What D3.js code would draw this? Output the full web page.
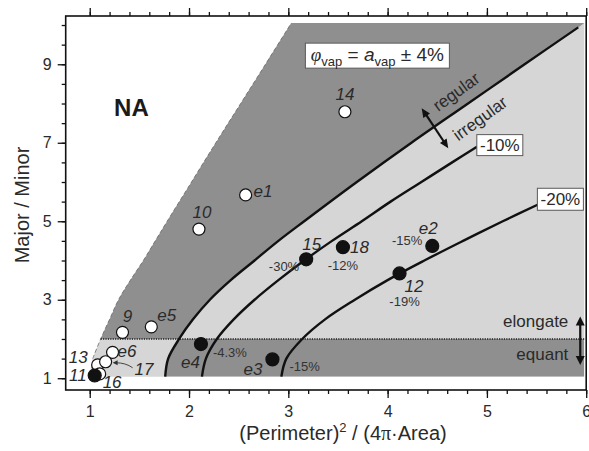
<!DOCTYPE html>
<html>
<head>
<meta charset="utf-8">
<script src="https://cdn.jsdelivr.net/npm/d3@7"></script>
<style>
  body { margin: 0; background: #fff; }
  svg { display: block; font-family: "Liberation Sans", Arial, Helvetica, sans-serif; }
</style>
</head>
<body>
<svg id="chart" width="589" height="451"></svg>
<script>
// ---------------- data ----------------
const xTickLabels = [1, 2, 3, 4, 5, 6];
const yTickLabels = [1, 3, 5, 7, 9];
const xMinorTicks = d3.range(1, 6.001, 0.2);
const yMinorTicks = d3.range(1, 10.001, 0.5);

// Limit of attainable shapes: [shape factor, major/minor]
const naBoundary = [[1.0, 1.04], [1.03, 1.5], [1.11, 2.0], [1.20, 2.5], [1.29, 3.0], [1.41, 3.5],
                    [1.54, 4.0], [1.66, 4.5], [1.78, 5.0], [2.025, 6.0], [2.27, 7.0], [2.52, 8.0],
                    [2.77, 9.0], [3.03, 10.05]];
// regular / irregular divide
const regularCurve = [[1.76, 1.04], [1.79, 1.5], [1.90, 2.0], [2.04, 2.5], [2.21, 3.0], [2.42, 3.5],
                      [2.66, 4.0], [2.90, 4.5], [3.16, 5.0], [3.69, 6.0], [4.24, 7.0], [4.81, 8.0],
                      [5.38, 9.0], [5.92, 9.94]];
// -10 % contour
const minus10Curve = [[2.13, 1.04], [2.17, 1.5], [2.28, 2.0], [2.45, 2.5], [2.66, 3.0], [2.90, 3.5],
                      [3.16, 4.0], [3.44, 4.5], [3.74, 5.0], [4.03, 5.5], [4.34, 6.0], [4.65, 6.5],
                      [4.90, 6.9]];
// -20 % contour
const minus20Curve = [[2.93, 1.04], [2.98, 1.5], [3.14, 2.0], [3.37, 2.5], [3.67, 3.0], [4.00, 3.5],
                      [4.37, 4.0], [4.76, 4.5], [5.16, 5.0], [5.51, 5.42]];
const elongateLimit = 2;

// Samples
const pointIds    = ["14", "e1", "10", "9", "e5", "e6", "13", "17", "16", "11",
                     "15", "18", "e2", "12", "e4", "e3"];
const pointX      = [3.57, 2.57, 2.10, 1.33, 1.62, 1.23, 1.08, 1.16, 1.10, 1.05,
                     3.18, 3.55, 4.45, 4.12, 2.12, 2.84];
const pointY      = [7.79, 5.67, 4.80, 2.17, 2.31, 1.66, 1.34, 1.42, 1.11, 1.07,
                     4.03, 4.34, 4.37, 3.67, 1.87, 1.48];
const pointFilled = [false, false, false, false, false, false, false, false, false, true,
                     true, true, true, true, true, true];
const pointDeviation = ["", "", "", "", "", "", "", "", "", "",
                        "-30%", "-12%", "-15%", "-19%", "-4.3%", "-15%"];

// ---------------- layout ----------------
const svg = d3.select("#chart");
const x = d3.scaleLinear().domain([0.758, 6.0]).range([65.7, 586.2]);
const y = d3.scaleLinear().domain([0.70, 10.23]).range([390, 16]);
const shadeRight = 5.98, shadeTop = 10.05, shadeBottom = 1.04;

const DARK = "#8f8f8f", LIGHT = "#d6d6d6", INK = "#111", TEXT = "#2a2a2a";

// label placement (pixel offsets from each marker)
const labelPos = {
  "14": [0, -12, "middle"], "e1": [8, 2, "start"], "10": [3, -11, "middle"],
  "9": [5, -10, "middle"], "e5": [6, -6, "start"], "e6": [5, 5, "start"],
  "13": [-10, -2, "end"], "17": [29, 13, "start"], "16": [3, 14, "start"],
  "11": [-8, 6, "end"], "15": [-4, -9, "start"], "18": [7, 6, "start"],
  "e2": [-4, -12, "middle"], "12": [5, 19, "start"], "e4": [-1, 24, "end"],
  "e3": [-10, 16, "end"]
};
const devPos = {
  "15": [-7, 12, "end"], "18": [0, 23, "middle"], "e2": [-10, -1, "end"],
  "12": [5, 33, "middle"], "e4": [12, 13, "start"], "e3": [17, 12, "start"]
};

const curveLine = d3.line().x(d => x(d[0])).y(d => y(d[1])).curve(d3.curveCatmullRom.alpha(0.5));

const defs = svg.append("defs");
// attainable domain
const domainPath = curveLine(naBoundary)
  + `L${x(shadeRight)},${y(shadeTop)}L${x(shadeRight)},${y(shadeBottom)}Z`;
defs.append("clipPath").attr("id", "domainClip").append("path").attr("d", domainPath);
defs.append("clipPath").attr("id", "upperClip").append("rect")
  .attr("x", 0).attr("width", 589).attr("y", y(shadeTop)).attr("height", y(elongateLimit) - y(shadeTop));
defs.append("clipPath").attr("id", "lowerClip").append("rect")
  .attr("x", 0).attr("width", 589).attr("y", y(elongateLimit)).attr("height", y(shadeBottom) - y(elongateLimit));

// light background of the attainable domain
svg.append("path").attr("d", domainPath).attr("fill", LIGHT);

const regPath = curveLine(regularCurve);
// regular & elongate: left of the divide, above the elongate limit
svg.append("g").attr("clip-path", "url(#domainClip)")
  .append("g").attr("clip-path", "url(#upperClip)")
  .append("path")
  .attr("d", regPath + `L${x(shadeRight)},${y(shadeTop)}L${x(0.758)},${y(shadeTop)}L${x(0.758)},${y(shadeBottom)}Z`)
  .attr("fill", DARK);
// irregular & equant: right of the divide, below the elongate limit
svg.append("g").attr("clip-path", "url(#domainClip)")
  .append("g").attr("clip-path", "url(#lowerClip)")
  .append("path")
  .attr("d", regPath + `L${x(shadeRight)},${y(shadeTop)}L${x(shadeRight)},${y(shadeBottom)}Z`)
  .attr("fill", DARK);

// dashed outline of the limit
svg.append("path").attr("d", curveLine(naBoundary.filter(d => d[1] >= 1.5)))
  .attr("fill", "none").attr("stroke", "#6a6a6a").attr("stroke-width", 0.8)
  .attr("stroke-dasharray", "4,2.5");

// elongate / equant limit
svg.append("line")
  .attr("x1", x(1.11)).attr("x2", x(shadeRight))
  .attr("y1", y(elongateLimit)).attr("y2", y(elongateLimit))
  .attr("stroke", "#1a1a1a").attr("stroke-width", 1.6).attr("stroke-dasharray", "1.2,1.2");

// contours
[regularCurve, minus10Curve, minus20Curve].forEach(c => {
  svg.append("path").attr("d", curveLine(c))
    .attr("fill", "none").attr("stroke", INK).attr("stroke-width", 2.4);
});

// ---------------- axes ----------------
function styleAxis(g) {
  g.select(".domain").remove();
  g.selectAll(".tick line").attr("stroke", INK).attr("stroke-width", 1.3);
  g.selectAll(".tick text").attr("fill", TEXT).attr("font-size", 16)
    .attr("font-family", "'Liberation Sans', Arial, sans-serif");
}
const fmt = d3.format("d");
svg.append("g").attr("transform", `translate(0,390)`)
  .call(d3.axisBottom(x).tickValues(xMinorTicks).tickSize(4).tickFormat("")).call(styleAxis);
svg.append("g").attr("transform", `translate(0,390)`)
  .call(d3.axisBottom(x).tickValues(xTickLabels).tickSize(8).tickPadding(8).tickFormat(fmt)).call(styleAxis);
svg.append("g").attr("transform", `translate(0,16)`)
  .call(d3.axisTop(x).tickValues(xMinorTicks).tickSize(4).tickFormat("")).call(styleAxis);
svg.append("g").attr("transform", `translate(0,16)`)
  .call(d3.axisTop(x).tickValues(xTickLabels).tickSize(8).tickFormat("")).call(styleAxis);
svg.append("g").attr("transform", `translate(65.7,0)`)
  .call(d3.axisLeft(y).tickValues(yMinorTicks).tickSize(4).tickFormat("")).call(styleAxis);
svg.append("g").attr("transform", `translate(65.7,0)`)
  .call(d3.axisLeft(y).tickValues(yTickLabels).tickSize(8).tickPadding(6).tickFormat(fmt)).call(styleAxis);

// frame
svg.append("rect").attr("x", x(0.758)).attr("y", y(10.23))
  .attr("width", x(6.0) - x(0.758)).attr("height", y(0.70) - y(10.23))
  .attr("fill", "none").attr("stroke", INK).attr("stroke-width", 1.6);

// axis titles
const xt = svg.append("text").attr("x", 343).attr("y", 440).attr("text-anchor", "middle")
  .attr("font-size", 20).attr("fill", TEXT);
xt.append("tspan").text("(Perimeter)");
xt.append("tspan").attr("font-size", 13).attr("dy", -8).text("2");
xt.append("tspan").attr("dy", 8).text(" / (4");
xt.append("tspan").attr("font-family", "'Liberation Serif', serif").text("π");
xt.append("tspan").text("·Area)");

svg.append("text").attr("transform", "translate(29,205) rotate(-90)")
  .attr("text-anchor", "middle").attr("font-size", 20).attr("fill", TEXT)
  .text("Major / Minor");

// ---------------- annotations ----------------
function doubleArrow(x1, y1, x2, y2, len, wid, sw) {
  const dx = x2 - x1, dy = y2 - y1, L = Math.hypot(dx, dy);
  const ux = dx / L, uy = dy / L, nx = -uy, ny = ux;
  const g = svg.append("g");
  g.append("line")
    .attr("x1", x1 + ux * len * 0.8).attr("y1", y1 + uy * len * 0.8)
    .attr("x2", x2 - ux * len * 0.8).attr("y2", y2 - uy * len * 0.8)
    .attr("stroke", INK).attr("stroke-width", sw);
  const head = (px, py, sx, sy) => {
    const bx = px + sx * len, by = py + sy * len;
    return `M${px},${py}L${bx + nx * wid / 2},${by + ny * wid / 2}L${bx - nx * wid / 2},${by - ny * wid / 2}Z`;
  };
  g.append("path").attr("d", head(x1, y1, ux, uy) + head(x2, y2, -ux, -uy)).attr("fill", INK);
}

// regular / irregular
doubleArrow(x(4.343), y(7.88), x(4.611), y(6.86), 9, 8, 2.2);
svg.append("text").attr("transform", `translate(${x(4.69)},${y(8.30)}) rotate(-36)`)
  .attr("text-anchor", "middle").attr("dy", "0.35em").attr("font-size", 17).attr("fill", TEXT)
  .text("regular");
svg.append("text").attr("transform", `translate(${x(4.93)},${y(7.62)}) rotate(-36)`)
  .attr("text-anchor", "middle").attr("dy", "0.35em").attr("font-size", 17).attr("fill", TEXT)
  .text("irregular");

// elongate / equant
doubleArrow(x(5.94), y(2.57), x(5.94), y(1.34), 9, 9, 2.2);
svg.append("text").attr("x", x(5.82)).attr("y", y(2.31)).attr("text-anchor", "end")
  .attr("font-size", 17).attr("fill", TEXT).text("elongate");
svg.append("text").attr("x", x(5.82)).attr("y", y(1.47)).attr("text-anchor", "end")
  .attr("font-size", 17).attr("fill", TEXT).text("equant");

// NA
svg.append("text").attr("x", x(1.42)).attr("y", y(7.89)).attr("text-anchor", "middle")
  .attr("dy", "0.36em").attr("font-size", 24).attr("font-weight", "bold").attr("fill", "#1a1a1a")
  .text("NA");

// boxed labels
function boxLabel(cx, cy, w, h, build) {
  const g = svg.append("g").attr("transform", `translate(${cx},${cy})`);
  g.append("rect").attr("x", -w / 2).attr("y", -h / 2).attr("width", w).attr("height", h)
    .attr("fill", "#fff").attr("stroke", "#5a5a5a").attr("stroke-width", 1);
  build(g);
}
boxLabel(x(5.13), y(6.94), 46, 21, g => g.append("text").attr("text-anchor", "middle")
  .attr("dy", "0.36em").attr("font-size", 17).attr("fill", TEXT).text("-10%"));
boxLabel(x(5.74), y(5.56), 46, 22, g => g.append("text").attr("text-anchor", "middle")
  .attr("dy", "0.36em").attr("font-size", 17).attr("fill", TEXT).text("-20%"));
boxLabel(x(3.897), y(9.22), 144, 25, g => {
  const t = g.append("text").attr("text-anchor", "middle").attr("dy", "0.3em")
    .attr("font-size", 19).attr("fill", TEXT);
  t.append("tspan").attr("font-family", "'Liberation Serif', serif").attr("font-style", "italic").text("φ");
  t.append("tspan").attr("font-size", 13).attr("dy", 5).text("vap");
  t.append("tspan").attr("dy", -5).text(" = ");
  t.append("tspan").attr("font-style", "italic").text("a");
  t.append("tspan").attr("font-size", 13).attr("dy", 5).text("vap");
  t.append("tspan").attr("dy", -5).text(" ± 4%");
});

// leader for sample 17
{
  const i = pointIds.indexOf("17");
  const px = x(pointX[i]), py = y(pointY[i]);
  svg.append("path")
    .attr("d", `M${px + 27},${py + 6}Q${px + 20},${py + 1} ${px + 10},${py + 1}`)
    .attr("fill", "none").attr("stroke", "#333").attr("stroke-width", 0.9);
  svg.append("path")
    .attr("d", `M${px + 7},${py + 1}L${px + 12},${py - 1.5}L${px + 12},${py + 3.5}Z`)
    .attr("fill", "#333");
}

// ---------------- samples ----------------
const idx = d3.range(pointIds.length);
svg.append("g").selectAll("circle").data(idx).join("circle")
  .attr("cx", i => x(pointX[i])).attr("cy", i => y(pointY[i]))
  .attr("r", i => pointFilled[i] ? 6.5 : 6)
  .attr("fill", i => pointFilled[i] ? INK : "#fff")
  .attr("stroke", INK).attr("stroke-width", 1.2);

svg.append("g").selectAll("text").data(idx).join("text")
  .attr("x", i => x(pointX[i]) + labelPos[pointIds[i]][0])
  .attr("y", i => y(pointY[i]) + labelPos[pointIds[i]][1])
  .attr("text-anchor", i => labelPos[pointIds[i]][2])
  .attr("font-size", 17).attr("font-style", "italic").attr("fill", TEXT)
  .text(i => pointIds[i]);

svg.append("g").selectAll("text").data(idx.filter(i => pointDeviation[i])).join("text")
  .attr("x", i => x(pointX[i]) + devPos[pointIds[i]][0])
  .attr("y", i => y(pointY[i]) + devPos[pointIds[i]][1])
  .attr("text-anchor", i => devPos[pointIds[i]][2])
  .attr("font-size", 13).attr("fill", "#333")
  .text(i => pointDeviation[i]);
</script>
</body>
</html>
